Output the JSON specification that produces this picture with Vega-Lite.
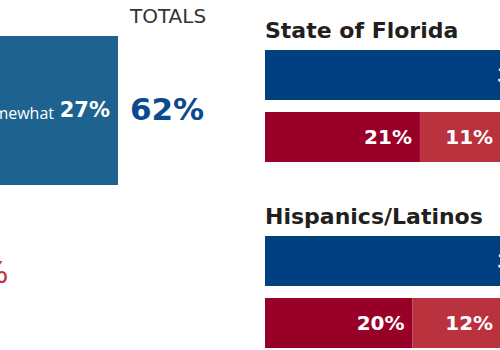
{
  "$schema": "https://vega.github.io/schema/vega-lite/v6.json",
  "padding": 0,
  "background": "white",
  "spacing": 0,
  "config": {"view": {"stroke": null}, "font": "DejaVu Sans"},
  "resolve": {"scale": {"color": "independent"}},
  "hconcat": [
    {
      "width": 265,
      "height": 350,
      "layer": [
        {
          "data": {"values": [
            {"stance": "Support", "level": "Strongly", "segment": "Strongly support", "value": 35, "label": "35%"},
            {"stance": "Support", "level": "Somewhat", "segment": "Somewhat support", "value": 27, "label": "27%"}
          ]},
          "layer": [
            {
              "mark": {"type": "bar", "clip": true},
              "encoding": {
                "x": {"field": "value", "type": "quantitative", "stack": "zero", "scale": {"domain": [40.55, 88.73], "nice": false, "zero": false}, "axis": null},
                "y": {"field": "stance", "type": "nominal", "scale": {"domain": ["Support", "Oppose"], "range": [36, 348], "paddingInner": 0.0859, "paddingOuter": 0}, "axis": null},
                "color": {"field": "segment", "type": "nominal", "scale": {"domain": ["Strongly support", "Somewhat support", "Strongly oppose", "Somewhat oppose"], "range": ["#004080", "#1e6290", "#990028", "#b9323e"]}, "legend": null},
                "order": {"field": "level", "sort": "descending"}
              }
            },
            {
              "mark": {"type": "text", "clip": true, "align": "right", "baseline": "middle", "dx": -8, "dy": 1, "fontSize": 21, "fontWeight": "bold", "color": "white"},
              "encoding": {
                "x": {"field": "value", "type": "quantitative", "stack": "zero"},
                "y": {"field": "stance", "type": "nominal"},
                "text": {"field": "label"},
                "order": {"field": "level", "sort": "descending"}
              }
            },
            {
              "mark": {"type": "text", "clip": true, "align": "right", "baseline": "alphabetic", "dx": -64, "dy": 9, "fontSize": 16, "font": "Open Sans", "color": "white"},
              "encoding": {
                "x": {"field": "value", "type": "quantitative", "stack": "zero"},
                "y": {"field": "stance", "type": "nominal"},
                "text": {"field": "level"},
                "order": {"field": "level", "sort": "descending"}
              }
            }
          ]
        },
        {
          "data": {"values": [
            {"stance": "Support", "total": 62, "label": "62%"}
          ]},
          "layer": [
            {
              "mark": {"type": "text", "clip": true, "align": "left", "baseline": "middle", "dx": 12, "dy": 1, "fontSize": 31, "fontWeight": "bold", "color": "#0b4a8e"},
              "encoding": {
                "x": {"field": "total", "type": "quantitative"},
                "y": {"field": "stance", "type": "nominal"},
                "text": {"field": "label"}
              }
            },
            {
              "mark": {"type": "text", "clip": true, "align": "left", "baseline": "alphabetic", "dx": 12, "dy": -13, "fontSize": 20, "color": "#333333"},
              "encoding": {
                "x": {"field": "total", "type": "quantitative"},
                "y": {"field": "stance", "type": "nominal", "bandPosition": 0},
                "text": {"value": "TOTALS"}
              }
            }
          ]
        },
        {
          "data": {"values": [
            {"stance": "Oppose", "pos": 42.1, "label": "32%"}
          ]},
          "mark": {"type": "text", "clip": true, "align": "right", "baseline": "middle", "fontSize": 30, "color": "#c0313b"},
          "encoding": {
            "x": {"field": "pos", "type": "quantitative"},
            "y": {"field": "stance", "type": "nominal"},
            "text": {"field": "label"}
          }
        }
      ]
    },
    {
      "width": 235,
      "height": 350,
      "layer": [
        {
          "data": {"values": [
            {"row": "FL support", "level": "Strongly", "segment": "Strongly support", "value": 39, "label": "39%"},
            {"row": "FL support", "level": "Somewhat", "segment": "Somewhat support", "value": 23, "label": "23%"},
            {"row": "FL oppose", "level": "Strongly", "segment": "Strongly oppose", "value": 21, "label": "21%"},
            {"row": "FL oppose", "level": "Somewhat", "segment": "Somewhat oppose", "value": 11, "label": "11%"},
            {"row": "HL support", "level": "Strongly", "segment": "Strongly support", "value": 39, "label": "39%"},
            {"row": "HL support", "level": "Somewhat", "segment": "Somewhat support", "value": 24, "label": "24%"},
            {"row": "HL oppose", "level": "Strongly", "segment": "Strongly oppose", "value": 20, "label": "20%"},
            {"row": "HL oppose", "level": "Somewhat", "segment": "Somewhat oppose", "value": 12, "label": "12%"}
          ]},
          "layer": [
            {
              "mark": {"type": "bar", "clip": true},
              "encoding": {
                "x": {"field": "value", "type": "quantitative", "stack": "zero", "scale": {"domain": [0, 31.85], "nice": false}, "axis": null},
                "y": {"field": "row", "type": "nominal", "scale": {"domain": ["FL title", "FL support", "FL oppose", "HL title", "HL support", "HL oppose"], "range": [-12, 348], "paddingInner": 0.1935, "paddingOuter": 0}, "axis": null},
                "color": {"field": "segment", "type": "nominal", "scale": {"domain": ["Strongly support", "Somewhat support", "Strongly oppose", "Somewhat oppose"], "range": ["#004080", "#1e6290", "#990028", "#b9323e"]}, "legend": null},
                "order": {"field": "level", "sort": "descending"}
              }
            },
            {
              "mark": {"type": "text", "clip": true, "align": "right", "baseline": "middle", "dx": -8, "dy": 1, "fontSize": 20, "fontWeight": "bold", "color": "white"},
              "encoding": {
                "x": {"field": "value", "type": "quantitative", "stack": "zero"},
                "y": {"field": "row", "type": "nominal"},
                "text": {"field": "label"},
                "order": {"field": "level", "sort": "descending"}
              }
            }
          ]
        },
        {
          "data": {"values": [
            {"row": "FL title", "label": "State of Florida"},
            {"row": "HL title", "label": "Hispanics/Latinos"}
          ]},
          "mark": {"type": "text", "align": "left", "baseline": "alphabetic", "fontSize": 22, "fontWeight": "bold", "color": "#231f20"},
          "encoding": {
            "x": {"datum": 0, "type": "quantitative"},
            "y": {"field": "row", "type": "nominal", "bandPosition": 1},
            "text": {"field": "label"}
          }
        }
      ]
    }
  ]
}
